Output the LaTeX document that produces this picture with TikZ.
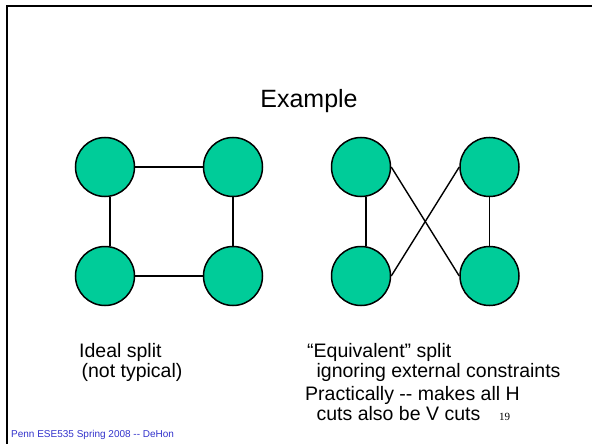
\documentclass[tikz,border=0pt]{standalone}
\usepackage{fontspec}
\setmainfont{Liberation Sans}
\newfontfamily\serifnum{Liberation Serif}
\definecolor{nodegreen}{RGB}{0,204,153}
\definecolor{footblue}{RGB}{51,51,204}
\tikzset{
  vtx/.style={circle, draw=black, line width=1.5pt, fill=nodegreen, minimum size=59pt, inner sep=0pt},
  edge/.style={draw=black, line width=1.4pt},
  bodytext/.style={anchor=base west, inner sep=0pt, font=\fontsize{19.5pt}{22pt}\selectfont},
}
\begin{document}
\begin{tikzpicture}[x=1pt,y=-1pt]
\useasboundingbox (0,0) rectangle (592,444);
\fill[white] (0,0) rectangle (592,444);
% slide frame (top and left edges visible)
\draw[line width=2pt] (7,450) -- (7,6) -- (600,6);
% title
\node[anchor=base, inner sep=0pt, font=\fontsize{25pt}{30pt}\selectfont] (title) at (309,107) {Example};
% left graph
\node[vtx] (a1) at (105,167) {};
\node[vtx] (a2) at (233,167) {};
\node[vtx] (a3) at (105,276) {};
\node[vtx] (a4) at (233,276) {};
% right graph
\node[vtx] (b1) at (361,167) {};
\node[vtx] (b2) at (489.5,167) {};
\node[vtx] (b3) at (361,276) {};
\node[vtx] (b4) at (489.5,276) {};
% edges
\draw[edge] (a1.east) -- (a2.west);
\draw[edge] (a3.east) -- (a4.west);
\draw[edge] ([xshift=5pt]a1.south) -- ([xshift=5pt]a3.north);
\draw[edge] (a2.south) -- (a4.north);
\draw[edge] ([xshift=5pt]b1.south) -- ([xshift=5pt]b3.north);
\draw[edge] (b2.south) -- (b4.north);
\draw[edge] (b1.east) -- (b4.west);
\draw[edge] (b2.west) -- (b3.east);
% texts
\node[bodytext] (t1) at (79,357) {Ideal split};
\node[bodytext] (t2) at (76,377) {\ (not typical)};
\node[bodytext] (t3) at (307,357) {“Equivalent” split};
\node[bodytext] (t4) at (311,377) {\ ignoring external constraints};
\node[bodytext] (t5) at (305,400) {Practically -{}- makes all H};
\node[bodytext] (t6) at (311,420) {\ cuts also be V cuts};
\node[anchor=base west, inner sep=0pt, font=\serifnum\fontsize{11pt}{13pt}\selectfont] (pg) at (499,420) {19};
\node[anchor=base west, inner sep=0pt, text=footblue, font=\fontsize{10pt}{12pt}\selectfont] (foot) at (11,437) {Penn ESE535 Spring 2008 -{}- DeHon};
\end{tikzpicture}
\end{document}
